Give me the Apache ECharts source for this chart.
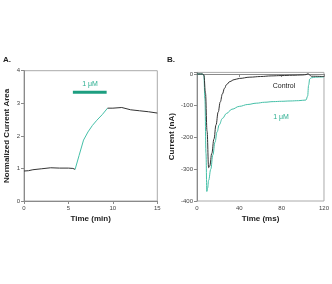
<!DOCTYPE html>
<html>
<head>
<meta charset="utf-8">
<script src="https://cdn.jsdelivr.net/npm/echarts@6/dist/echarts.min.js"></script>
<style>
  html, body { margin: 0; padding: 0; background: #fff; }
  #main { width: 332px; height: 284px; }
</style>
</head>
<body>
<div id="main"></div>
<script>
// panel A: normalized current area vs time (min)
var aBefore = [[0, 0.92], [0.5, 0.93], [1, 0.96], [2, 0.99], [3, 1.02], [4, 1.01], [5, 1.01], [5.5, 1.0], [5.75, 0.97]];
var aDrug = [[5.75, 0.97], [6.2, 1.4], [6.7, 1.87], [7.2, 2.12], [7.7, 2.32], [8.2, 2.48], [8.8, 2.65], [9.4, 2.85]];
var aAfter = [[9.4, 2.85], [10, 2.85], [11, 2.87], [12, 2.8], [13, 2.77], [14, 2.74], [15, 2.7]];
var aBar = [[5.5, 3.34], [9.3, 3.34]];

// panel B: current (nA) vs time (ms)
var bControl = [[0, 0], [5, 0], [6.5, -3], [8, -60], [9.5, -180], [11, -295], [12, -290], [14, -250], [16, -205],
  [18, -160], [20, -120], [22, -88], [24, -63], [26, -45], [28, -33], [31, -24], [35, -18], [40, -14], [50, -10],
  [60, -8], [70, -6], [80, -5], [90, -4], [100, -3], [103, -2], [105, 1], [106, -2], [108, -7], [120, -8]];
var bDrug = [[0, 0], [5, 0], [6.5, -5], [7.5, -80], [8.5, -250], [9.3, -370], [10, -360], [11, -335], [13, -300],
  [15, -255], [17, -215], [19, -182], [21, -160], [24, -140], [28, -124], [33, -111], [40, -102], [48, -96],
  [56, -92], [64, -89], [72, -87], [80, -86], [88, -85], [96, -84], [103, -82], [104.5, -70], [105.5, -35],
  [106.5, -16], [108, -12], [112, -10], [120, -9]];

var black = '#333';
var teal = '#45c0a8';
var axisGray = '#8a8a8a';
var fontFam = '"Liberation Sans", Arial, sans-serif';

function xAxis(idx, min, max, interval, name) {
  return {
    type: 'value', gridIndex: idx, min: min, max: max, interval: interval,
    name: name, nameLocation: 'middle', nameGap: 14,
    nameTextStyle: { fontFamily: fontFam, fontWeight: 'bold', fontSize: 8, color: '#222' },
    axisLine: { lineStyle: { color: axisGray, width: 1 } },
    axisTick: { length: 3, lineStyle: { color: axisGray } },
    axisLabel: { fontFamily: fontFam, fontSize: 6, color: '#444', margin: 4 },
    splitLine: { show: false }
  };
}
function yAxis(idx, min, max, interval, name, gap) {
  return {
    type: 'value', gridIndex: idx, min: min, max: max, interval: interval,
    name: name, nameLocation: 'middle', nameGap: gap,
    nameTextStyle: { fontFamily: fontFam, fontWeight: 'bold', fontSize: 8, color: '#222' },
    axisLine: { lineStyle: { color: axisGray, width: 1 } },
    axisTick: {
      length: 3, lineStyle: { color: axisGray },
      // no tick at the padded top of the axis
      interval: function (i, v) { return v % interval === 0; }
    },
    axisLabel: {
      fontFamily: fontFam, fontSize: 6, color: '#444', margin: 4,
      formatter: function (v) { return v % interval === 0 ? v : ''; }
    },
    splitLine: { show: false }
  };
}
function line(xi, data, color, w, smooth) {
  return {
    type: 'line', xAxisIndex: xi, yAxisIndex: xi, data: data, showSymbol: false,
    smooth: smooth || false, smoothMonotone: 'x',
    lineStyle: { color: color, width: w || 1 }, animation: false
  };
}

var chart = echarts.init(document.getElementById('main'), null, { renderer: 'canvas' });
chart.setOption({
  backgroundColor: '#fff',
  animation: false,
  grid: [
    { left: 24, top: 70.7, width: 133.3, height: 130.3, show: true, borderColor: '#aaa', borderWidth: 1 },
    { left: 197, top: 72.4, width: 129.7, height: 128.6, show: true, borderColor: '#aaa', borderWidth: 1 }
  ],
  xAxis: [xAxis(0, 0, 15, 5, 'Time (min)'), xAxis(1, 0, 120, 40, 'Time (ms)')],
  yAxis: [yAxis(0, 0, 4, 1, 'Normalized Current Area', 13), yAxis(1, -400, 5, 100, 'Current (nA)', 21)],
  series: [
    line(0, aBefore, black),
    line(0, aDrug, teal),
    line(0, aAfter, black),
    line(0, aBar, '#1d9e80', 3),
    line(1, bDrug, teal, 1, 0.4),
    line(1, bControl, black, 1, 0.4)
  ],
  graphic: [
    { type: 'text', left: 3, top: 56, style: { text: 'A.', font: 'bold 8px ' + fontFam, fill: '#222' } },
    { type: 'text', left: 167, top: 56, style: { text: 'B.', font: 'bold 8px ' + fontFam, fill: '#222' } },
    { type: 'text', x: 90, y: 84, style: { text: '1 μM', font: '7px ' + fontFam, fill: '#2aae90', align: 'center', verticalAlign: 'middle' } },
    { type: 'text', x: 284, y: 86.5, style: { text: 'Control', font: '7px ' + fontFam, fill: '#222', align: 'center', verticalAlign: 'middle' } },
    { type: 'text', x: 281, y: 117, style: { text: '1 μM', font: '7px ' + fontFam, fill: '#2aae90', align: 'center', verticalAlign: 'middle' } }
  ]
});
</script>
</body>
</html>
